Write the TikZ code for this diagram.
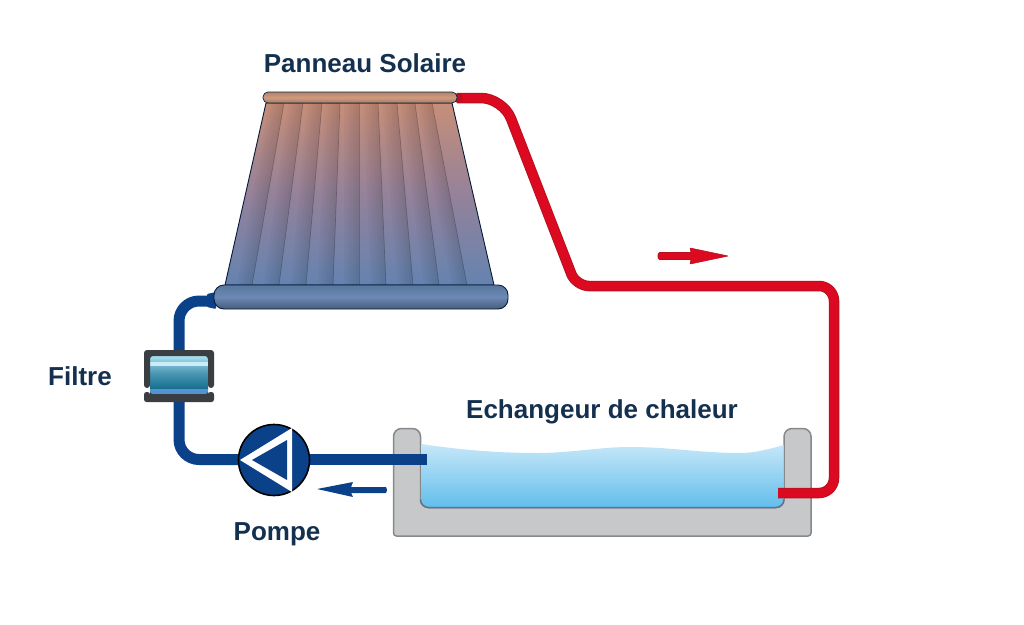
\documentclass[tikz,border=0pt]{standalone}
\usepackage{fontspec}
\setmainfont{Liberation Sans}
\usetikzlibrary{calc}
\definecolor{pipeblue}{HTML}{0B4188}
\definecolor{pipered}{HTML}{DC0A20}
\definecolor{pipedark}{HTML}{B8101F}
\definecolor{label}{HTML}{14304F}
\definecolor{tankgrey}{HTML}{C7C8CA}
\definecolor{tankline}{HTML}{86888B}
\tikzset{
  lbl/.style={font=\bfseries\fontsize{26}{30}\selectfont,text=label,inner sep=0pt,anchor=base},
  bluepipe/.style={draw=pipeblue,line width=11pt,rounded corners=20pt},
  redpipeedge/.style={draw=pipedark,line width=10.5pt},
  redpipe/.style={draw=pipered,line width=8.5pt},
  seam/.style={draw=black,line width=.7pt,opacity=.22},
  seamshade/.style={fill=black,opacity=.025,draw=none},
  port/.style={minimum width=1pt,minimum height=1pt,inner sep=0pt},
  redroute/.style={insert path={(457,98) [rounded corners=22pt] -- (503,98) [rounded corners=13pt] -- (576,286) [rounded corners=15pt] -- (834,286) -- (834,493) -- (tankout.center)}},
}
\begin{document}
\begin{tikzpicture}[x=1pt,y=-1pt]
\useasboundingbox[fill=white] (0,0) rectangle (1024,624);
% tank
\fill[tankgrey,draw=tankline,line width=1.5pt]
  [rounded corners=3pt] (393.5,536) [rounded corners=8pt] -- (393.5,428.5) -- (420.5,428.5) -- (420.5,507.5) -- (784,507.5) -- (784,428.5) -- (811,428.5) [rounded corners=3pt] -- (811,536) -- cycle;
% water
\definecolor{wtop}{HTML}{C6E7F8}
\definecolor{wbot}{HTML}{62BEEC}
\path[top color=wtop,bottom color=wbot,draw=none]
  (421.5,444) .. controls (460,450) and (500,453) .. (537,453)
  .. controls (570,453) and (600,447) .. (630,447)
  .. controls (670,447) and (700,453) .. (740,453)
  .. controls (755,453) and (770,449) .. (783.5,445)
  -- (783.5,499) arc[start angle=0,end angle=90,radius=8] -- (429.5,507) arc[start angle=90,end angle=180,radius=8] -- cycle;
\draw[draw=tankline!70!pipeblue,line width=1.5pt] (420.5,499.5) arc[start angle=180,end angle=90,radius=8] -- (776,507.5) arc[start angle=90,end angle=0,radius=8];
\node[port] (tankin) at (427,459.5) {};
\node[port] (tankout) at (778,493) {};
% panel body
\definecolor{ptop}{HTML}{C78E78}
\definecolor{pmid}{HTML}{95829A}
\definecolor{pbot}{HTML}{6483B0}
\path[top color=ptop,bottom color=pbot,middle color=pmid,draw=black!60!pipeblue,line width=.9pt]
  (266,103) -- (452,103) -- (494,285) -- (225,285) -- cycle;
\foreach \a/\b in {284/252,303/279,322/306,340/333,359/359,378/386,397/413,415/439,432/467}{
  \foreach \w in {3,6,9,12,15}{
    \fill[seamshade] (\a,103) -- (\a-\w,103) -- (\b-\w,285) -- (\b,285) -- cycle;
  }
  \draw[seam] (\a,103) -- (\b,285);
}
% pipes
\node[port] (pumpport) at (274,459.5) {};
\coordinate (filtertop) at (179,352);
\coordinate (filterbot) at (179,400);
\draw[redpipeedge,redroute];
\draw[redpipe,redroute];
\draw[bluepipe] (tankin.center) -- (pumpport.center);
\draw[bluepipe] (pumpport.center) -- (179,459.5) -- (filterbot);
\draw[bluepipe] (filtertop) -- (179,301) -- (214,301);
% stubs
\fill[rounded corners=1pt,pipeblue] (207,294) -- (216,292) -- (216,309) -- (207,307) -- cycle;
\fill[pipedark,rounded corners=1pt] (456,93) -- (462,94) -- (462,102) -- (456,103) -- cycle;
% panel bars
\definecolor{bartop}{HTML}{D29A7C}
\node[draw=black!45!pipeblue,line width=.7pt,rounded corners=5pt,top color=bartop!85!black,bottom color=bartop!80!black,middle color=bartop,minimum width=194pt,minimum height=11pt,inner sep=0pt] (paneltop) at (360,97.5) {};
\node[draw=black!55!pipeblue,line width=.9pt,rounded corners=10pt,top color=pbot!90!black,bottom color=pbot!70!black,middle color=pbot!95!white,minimum width=294pt,minimum height=24pt,inner sep=0pt] (panelbot) at (361,297) {};
% filter
\node[minimum width=58pt,minimum height=38pt,inner sep=0pt] (filter) at (179,375) {};
\definecolor{fa}{HTML}{A8DFF1}
\definecolor{fb}{HTML}{4A97B3}
\definecolor{fc}{HTML}{0F6C8A}
\path[top color=fa,bottom color=fc,middle color=fb] (150,356) rectangle (208,390);
\fill[fa!60!white] (150,362) rectangle (208,366);
\fill[cyan!55!blue!70!white] (150,389) rectangle (208,395);
\definecolor{framec}{HTML}{3A3D42}
\fill[framec,rounded corners=3pt] (144,388) -- (144,350) -- (214,350) -- (214,388) -- (208,388) -- (208,356) -- (150,356) -- (150,388) -- cycle;
\fill[framec,rounded corners=2.5pt] (144,392) -- (150,392) -- (150,394) -- (208,394) -- (208,392) -- (214,392) -- (214,402) -- (144,402) -- cycle;
% pump
\node[circle,draw=black,fill=pipeblue,line width=1.6pt,minimum size=71pt,inner sep=0pt] (pump) at (274,460) {};
\fill[white] (240,460) -- (292,428) -- (292,492) -- cycle;
\fill[pipeblue] (252,460) -- (287,440) -- (287,480) -- cycle;
% flow arrows
\fill[pipeblue,rounded corners=.5pt] (317,489) -- (353,482) -- (351,487) -- (385,487) to[out=0,in=0] (385,493) -- (351,493) -- (353,497) -- cycle;
\fill[pipered,draw=pipedark,line width=.6pt,rounded corners=.5pt] (728,256) -- (690,248) -- (691,252.5) -- (660,252.5) to[out=180,in=180] (660,259.5) -- (691,259.5) -- (690,264) -- cycle;
% labels
\node[lbl] (lp) at (365,72) {Panneau Solaire};
\node[lbl] (lf) at (80,385) {Filtre};
\node[lbl] (le) at (602,418) {Echangeur de chaleur};
\node[lbl] (lo) at (277,540) {Pompe};
\end{tikzpicture}
\end{document}
